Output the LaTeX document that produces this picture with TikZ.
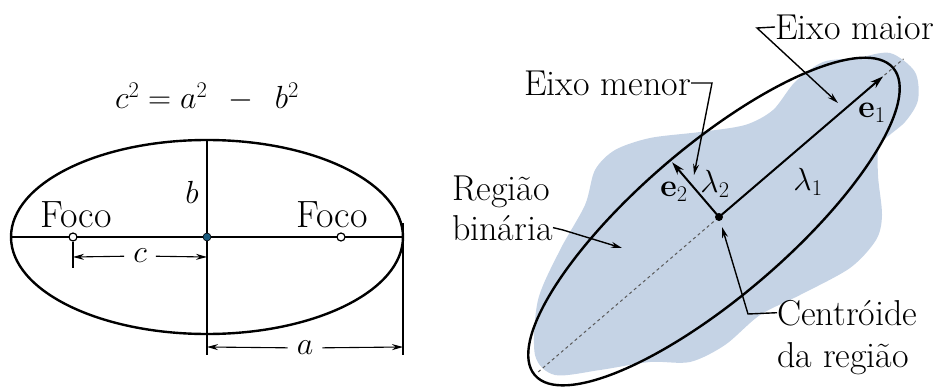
\RequirePackage{fix-cm}
\documentclass[tikz,border=0pt]{standalone}
\usepackage{amsmath, amssymb, bm}
\usetikzlibrary{positioning}
\usetikzlibrary{calc}
\usetikzlibrary{arrows.meta}
\definecolor{blobblue}{RGB}{197,211,229}
\definecolor{dotblue}{RGB}{25,90,125}
\begin{document}
\begin{tikzpicture}[x=1pt,y=1pt,
  txt/.style={font=\fontsize{36}{41}\selectfont,inner sep=0pt},
  mth/.style={font=\fontsize{32}{36}\selectfont,inner sep=0pt},
  outline/.style={line width=2.4pt},
  axis/.style={line width=2pt},
  dim/.style={line width=1.1pt},
  dimarr/.style={dim,-{Stealth[length=11pt,width=6pt]}},
  lead/.style={line width=1.4pt,-{Stealth[length=11pt,width=6pt]}},
  vec/.style={line width=2pt,-{Stealth[length=13pt,width=8pt]}}]
\useasboundingbox (0,0) rectangle (942,389);
% left: ellipse with foci
\coordinate (o) at (207,152);
\coordinate (ftick) at (73,121);
\coordinate (cend) at (207,132);
\coordinate (cstart) at (73,132);
\coordinate (aend) at (403,42);
\coordinate (astart) at (207,42);
\draw[outline] (o) ellipse [x radius=196, y radius=97];
\draw[axis] (11,152) -- (403,152);
\draw[axis] (207,249) -- (207,55);
\draw[dim] (207,55) -- (207,34);
\draw[dim] (403,166) -- (403,34);
\node[mth] (eq) at (207,292) {$c^2 = a^2 \;\,-\;\, b^2$};
\node[mth] (b) at (192,197) {$b$};
\node[txt,font=\fontsize{38}{41}\selectfont] (foco1) at (76,174) {Foco};
\node[txt,font=\fontsize{38}{41}\selectfont] (foco2) at (332,174) {Foco};
\node[draw,circle,line width=1.2pt,fill=white,inner sep=0pt,minimum size=8pt] (f1) at (73,152) {};
\node[draw,circle,line width=1.2pt,fill=white,inner sep=0pt,minimum size=8pt] (f2) at (341,152) {};
\node[circle,fill=dotblue,draw=black,line width=0.6pt,inner sep=0pt,minimum size=8pt] (c0) at (o) {};
\draw[dim] (f1) -- (ftick);
\node[mth,inner xsep=9pt] (clab) at (140,133) {$c$};
\draw[dimarr] (clab) -- (cstart);
\draw[dimarr] (clab) -- (cend);
\node[mth,inner xsep=9pt] (alab) at (305,41) {$a$};
\draw[dimarr] (alab) -- (astart);
\draw[dimarr] (alab) -- (aend);
% right: binary region and its ellipse
\coordinate (g) at (719,172);
\coordinate (ec) at (714,167.5);
\fill[blobblue] plot[smooth cycle] coordinates {(857,331) (890,336) (915,317) (918,289)
  (905,267) (880,244) (878,214) (882,174) (876,149) (850,121) (800,94) (760,74)
  (725,44) (690,27) (650,27) (600,19) (555,14) (535,34) (538,89) (560,139)
  (585,184) (595,219) (615,239) (650,251) (700,257) (745,264) (773,279)
  (795,307) (823,327)};
\draw[gray!70!black,line width=1pt,dash pattern=on 3pt off 3pt] ($(g)+(220.6:238)$) -- ($(g)+(40.6:243)$);
\draw[outline,rotate around={40.6:(ec)}] (ec) ellipse [x radius=236, y radius=75];
\coordinate (e1tip) at ($(g)+(40.6:216)$);
\coordinate (e2tip) at ($(g)+(130.6:72)$);
\draw[vec] (g) -- (e1tip);
\draw[vec] (g) -- (e2tip);
\fill (g) circle (4);
\node[mth] (e1) at (872,276) {$\mathbf{e}_1$};
\node[mth] (l1) at (808,207) {$\lambda_1$};
\node[mth] (e2) at (674,197) {$\mathbf{e}_2$};
\node[mth] (l2) at (715,205) {$\lambda_2$};
\node[txt,anchor=west] (maior) at (775,362) {Eixo maior};
\coordinate (maiorbend) at (757,361);
\coordinate (maiortip) at (838,286);
\draw[lead] (maior.west) -- (maiorbend) -- (maiortip);
\node[txt,anchor=east] (menor) at (691,306) {Eixo menor};
\coordinate (menorbend) at (712,306);
\coordinate (menortip) at (694,214);
\draw[lead] (menor.east) -- (menorbend) -- (menortip);
\node[txt,anchor=base west] (reg1) at (452,189) {Região};
\node[txt,anchor=base west] (reg2) at (452,149) {binária};
\coordinate (regbend) at (563,159);
\coordinate (regtip) at (622,141);
\draw[lead] (reg2.east) -- (regbend) -- (regtip);
\node[txt,anchor=base west] (cen1) at (777,64) {Centróide};
\node[txt,anchor=base west] (cen2) at (777,22) {da região};
\coordinate (cenbend) at (748,75);
\coordinate (centip) at (722,162);
\draw[lead] (cen1.west) -- (cenbend) -- (centip);
\end{tikzpicture}
\end{document}
